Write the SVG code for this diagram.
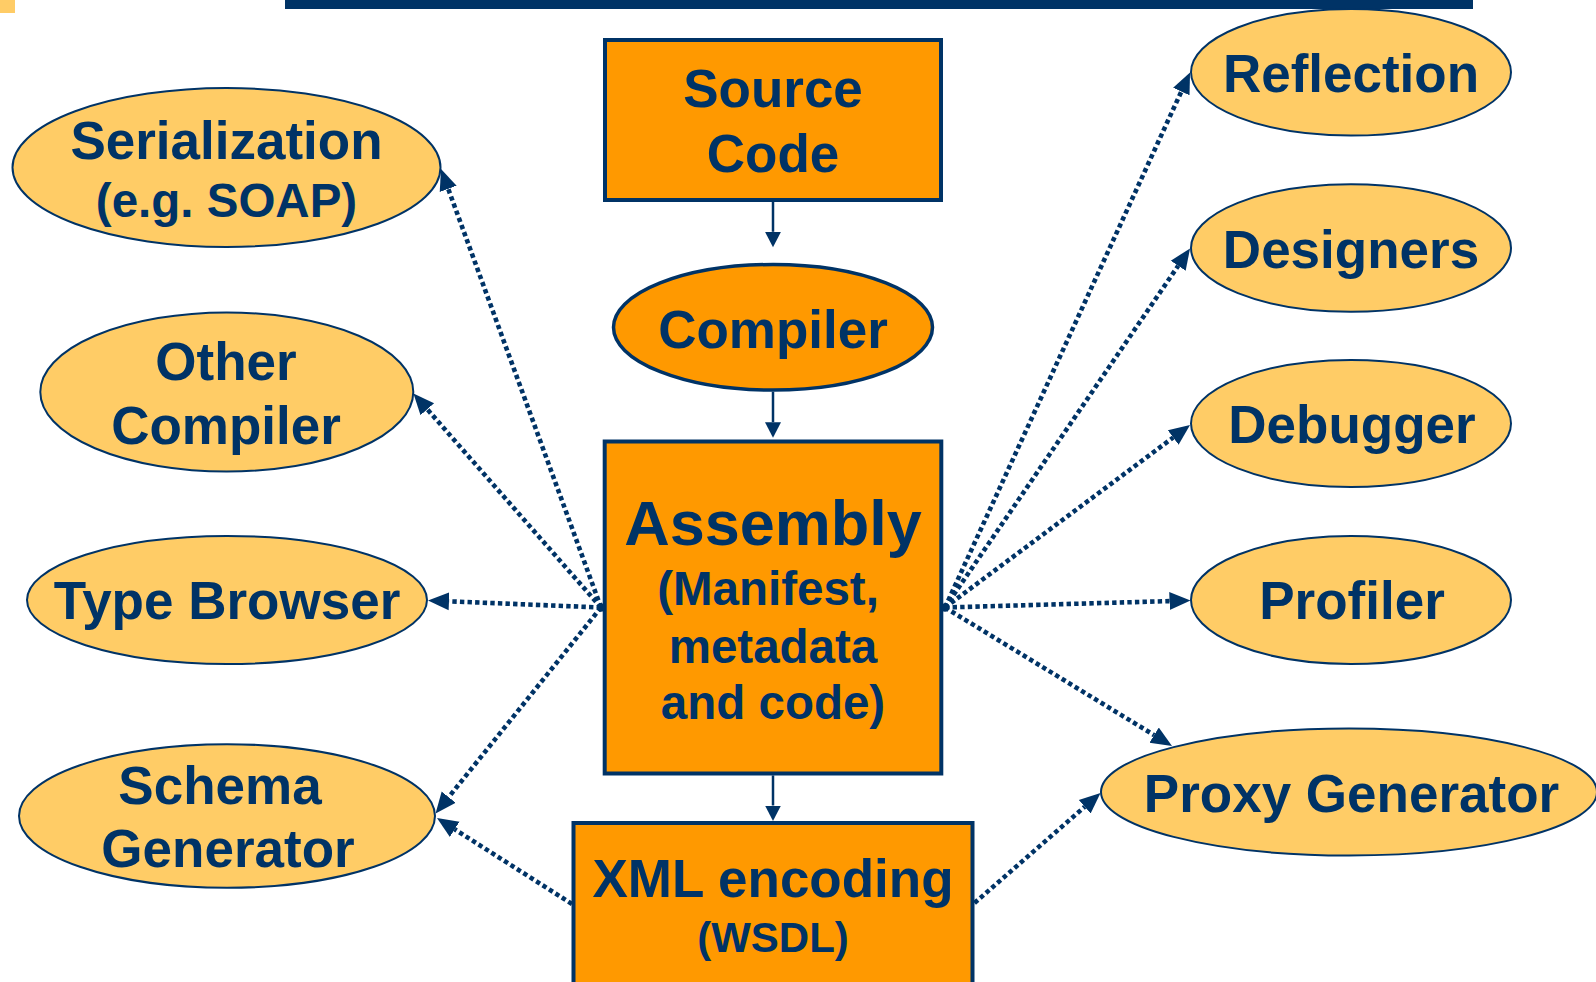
<svg xmlns="http://www.w3.org/2000/svg" width="1596" height="982" viewBox="0 0 1596 982">
  <style>
    .lbl { font-family: "Liberation Sans", Arial, Helvetica, sans-serif; font-weight: bold; fill: #003366; text-anchor: middle; }
    .big { font-size: 53px; }
    .sub { font-size: 47.5px; }
    .box { fill: #FF9900; stroke: #003366; stroke-width: 4; }
    .tool { fill: #FFCC66; stroke: #003366; stroke-width: 2; }
    .flow { stroke: #003366; stroke-width: 2.5; fill: none; }
    .use { stroke: #003366; stroke-width: 4.6; stroke-dasharray: 4.4 3.2; fill: none; }
  </style>
  <defs>
    <marker id="head-solid" markerUnits="userSpaceOnUse" viewBox="0 -8 16 16" markerWidth="16" markerHeight="16" refX="0" refY="0" orient="auto">
      <path d="M0,-8 L15.5,0 L0,8 z" fill="#003366"/>
    </marker>
    <marker id="head-dot" markerUnits="userSpaceOnUse" viewBox="0 -10 22 20" markerWidth="22" markerHeight="20" refX="0" refY="0" orient="auto">
      <path d="M0,-9 L21,0 L0,9 z" fill="#003366"/>
    </marker>
  </defs>

  <rect width="1596" height="982" fill="#FFFFFF"/>

  <!-- page decoration -->
  <rect x="0" y="0" width="15" height="13" fill="#FFCC66"/>
  <rect x="285" y="0" width="1188" height="9" fill="#003366"/>

  <!-- central pipeline -->
  <g id="source-code">
    <rect class="box" x="605" y="40" width="336" height="160"/>
    <text class="lbl big" x="773" y="107">Source</text>
    <text class="lbl big" x="773" y="171.5">Code</text>
  </g>
  <g id="compiler">
    <ellipse cx="773" cy="327.3" rx="159.5" ry="62.8" fill="#FF9900" stroke="#003366" stroke-width="3.5"/>
    <text class="lbl big" x="773" y="348.3">Compiler</text>
  </g>
  <g id="assembly">
    <rect class="box" x="604.7" y="441.5" width="336.6" height="332"/>
    <text class="lbl" x="773" y="545" font-size="63">Assembly</text>
    <text class="lbl sub" x="768" y="605">(Manifest,</text>
    <text class="lbl sub" x="773" y="663">metadata</text>
    <text class="lbl sub" x="773" y="719.3">and code)</text>
  </g>
  <g id="xml-encoding">
    <rect class="box" x="573.5" y="823" width="399" height="200"/>
    <text class="lbl big" x="773" y="897">XML encoding</text>
    <text class="lbl" x="773" y="952" font-size="42">(WSDL)</text>
  </g>

  <!-- consumers on the left -->
  <g id="serialization">
    <ellipse class="tool" cx="226.5" cy="167.5" rx="214" ry="79.5"/>
    <text class="lbl big" x="226.5" y="159">Serialization</text>
    <text class="lbl sub" x="226.5" y="217.3">(e.g. SOAP)</text>
  </g>
  <g id="other-compiler">
    <ellipse class="tool" cx="226.8" cy="392" rx="186.5" ry="79.5"/>
    <text class="lbl big" x="226" y="380">Other</text>
    <text class="lbl big" x="226" y="444">Compiler</text>
  </g>
  <g id="type-browser">
    <ellipse class="tool" cx="227" cy="600" rx="200" ry="64"/>
    <text class="lbl big" x="227" y="619">Type Browser</text>
  </g>
  <g id="schema-generator">
    <ellipse class="tool" cx="227" cy="816" rx="208" ry="71.8"/>
    <text class="lbl big" x="220" y="804">Schema</text>
    <text class="lbl big" x="228" y="867">Generator</text>
  </g>

  <!-- consumers on the right -->
  <g id="reflection">
    <ellipse class="tool" cx="1351" cy="72.3" rx="160" ry="63.3"/>
    <text class="lbl big" x="1351" y="91.7">Reflection</text>
  </g>
  <g id="designers">
    <ellipse class="tool" cx="1351" cy="248" rx="160" ry="63.8"/>
    <text class="lbl big" x="1351" y="268">Designers</text>
  </g>
  <g id="debugger">
    <ellipse class="tool" cx="1351" cy="423.5" rx="160" ry="63.5"/>
    <text class="lbl big" x="1352" y="443.3">Debugger</text>
  </g>
  <g id="profiler">
    <ellipse class="tool" cx="1351" cy="600" rx="160" ry="64"/>
    <text class="lbl big" x="1352" y="619">Profiler</text>
  </g>
  <g id="proxy-generator">
    <ellipse class="tool" cx="1349" cy="792" rx="248" ry="63.5"/>
    <text class="lbl big" x="1351.5" y="812">Proxy Generator</text>
  </g>

  <!-- connectors: solid build flow, dotted consumers -->
  <g id="connectors">
    <path class="flow" d="M773,201.7 L773,231.8" marker-end="url(#head-solid)"/>
    <path class="flow" d="M773,391.7 L773,422.2" marker-end="url(#head-solid)"/>
    <path class="flow" d="M773,775.4 L773,805.5" marker-end="url(#head-solid)"/>

    <path class="use" d="M601,607.5 L448.2,188.8" marker-end="url(#head-dot)"/>
    <path class="use" d="M601,607.5 L427.3,409.3" marker-end="url(#head-dot)"/>
    <path class="use" d="M601,607.5 L449,601.3" marker-end="url(#head-dot)"/>
    <path class="use" d="M601,607.5 L448.7,797.1" marker-end="url(#head-dot)"/>
    <path class="use" d="M572,904 L454.7,829.3" marker-end="url(#head-dot)"/>

    <path class="use" d="M945,607.5 L1181.3,91.6" marker-end="url(#head-dot)"/>
    <path class="use" d="M945,607.5 L1178.2,265.8" marker-end="url(#head-dot)"/>
    <path class="use" d="M945,607.5 L1173.2,437.5" marker-end="url(#head-dot)"/>
    <path class="use" d="M945,607.5 L1169.5,601.1" marker-end="url(#head-dot)"/>
    <path class="use" d="M945,607.5 L1154.1,735.1" marker-end="url(#head-dot)"/>
    <path class="use" d="M974.5,903 L1084.7,806.8" marker-end="url(#head-dot)"/>

    <circle cx="601" cy="607.5" r="4.2" fill="#003366"/>
    <circle cx="945" cy="607.5" r="4.2" fill="#003366"/>
  </g>
</svg>
